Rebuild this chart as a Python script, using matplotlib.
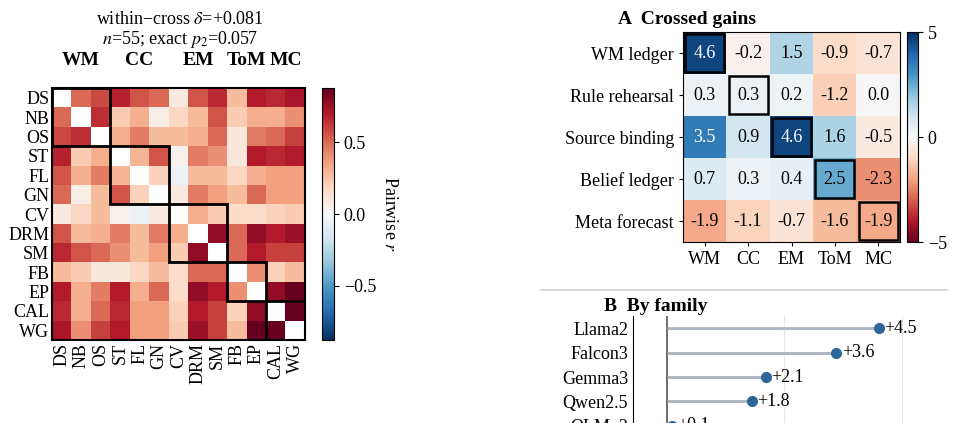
import numpy as np
import matplotlib
matplotlib.use("Agg")
import matplotlib.pyplot as plt
from matplotlib.patches import Rectangle
from matplotlib.lines import Line2D

plt.rcParams['font.family'] = ['Liberation Serif', 'DejaVu Serif']
plt.rcParams['mathtext.fontset'] = 'stix'
plt.rcParams['font.size'] = 13

tasks = ["DS", "NB", "OS", "ST", "FL", "GN", "CV", "DRM", "SM", "FB", "EP", "CAL", "WG"]
groups = ["WM", "CC", "EM", "ToM", "MC"]
group_sizes = [3, 3, 3, 2, 2]
lower = [
    [],
    [.50],
    [.58, .65],
    [.68, .22, .32],
    [.55, .32, .45, .30],
    [.50, .06, .28, .55, .20],
    [.08, .18, .28, .04, -.05, .08],
    [.55, .28, .32, .45, .28, .45, .32],
    [.66, .55, .50, .40, .28, .36, .22, .78],
    [.28, .22, .10, .10, .18, .28, .16, .50, .50],
    [.70, .32, .45, .70, .32, .50, .16, .78, .70, .40],
    [.66, .32, .50, .66, .36, .36, .20, .70, .60, .20, .78],
    [.72, .40, .60, .70, .36, .36, .22, .75, .60, .28, .92, .92],
]
gain_rows = ["WM ledger", "Rule rehearsal", "Source binding", "Belief ledger", "Meta forecast"]
gains = [
    [4.6, -0.2, 1.5, -0.9, -0.7],
    [0.3, 0.3, 0.2, -1.2, 0.0],
    [3.5, 0.9, 4.6, 1.6, -0.5],
    [0.7, 0.3, 0.4, 2.5, -2.3],
    [-1.9, -1.1, -0.7, -1.6, -1.9],
]
families = ["Llama2", "Falcon3", "Gemma3", "Qwen2.5", "OLMo2"]
family_gain = [4.5, 3.6, 2.1, 1.8, 0.1]

n = len(tasks)
M = np.full((n, n), np.nan)
for i, row in enumerate(lower):
    for j, v in enumerate(row):
        M[i, j] = v
        M[j, i] = v

fig = plt.figure(figsize=(9.54, 4.23), dpi=100)
W, H = 954, 423
def ax_px(x0, y0, x1, y1):
    return fig.add_axes([x0 / W, 1 - y1 / H, (x1 - x0) / W, (y1 - y0) / H])

# Left heatmap
ax = ax_px(52, 88, 305, 340)
cmap = plt.get_cmap('RdBu_r').copy()
cmap.set_bad('white')
im = ax.imshow(np.ma.masked_invalid(M), cmap=cmap, vmin=-0.88, vmax=0.88, aspect='auto')
ax.set_xticks(range(n)); ax.set_xticklabels(tasks, rotation=90)
ax.set_yticks(range(n)); ax.set_yticklabels(tasks)
ax.tick_params(length=0, pad=2)
for s in ax.spines.values():
    s.set_linewidth(1.5)
start = 0
for g, sz in zip(groups, group_sizes):
    ax.add_patch(Rectangle((start - 0.5, start - 0.5), sz, sz, fill=False, lw=2, ec='black'))
    ax.text(start - 0.5 + sz / 2, -1.9, g, ha='center', va='center', fontweight='bold', fontsize=14)
    start += sz
cax = ax_px(322, 88, 334, 340)
cb = fig.colorbar(im, cax=cax, ticks=[-0.5, 0, 0.5])
cb.ax.set_yticklabels(["\u22120.5", "0.0", "0.5"])
cb.set_label("Pairwise $r$", fontsize=13, rotation=270, labelpad=16)
fig.text(180 / W, 1 - 20 / H, "within\u2212cross $\\delta$=+0.081", ha='center', va='center', fontsize=13)
fig.text(180 / W, 1 - 40 / H, "$n$=55; exact $p_2$=0.057", ha='center', va='center', fontsize=13)

# Panel A
axA = ax_px(683, 32, 900, 242)
G = np.array(gains)
imA = axA.imshow(G, cmap='RdBu', vmin=-5, vmax=5, aspect='auto')
for i in range(5):
    for j in range(5):
        v = G[i, j]
        axA.text(j, i, f"{v:.1f}", ha='center', va='center', fontsize=13,
                 color='white' if abs(v) > 3 else 'black')
    axA.add_patch(Rectangle((i - 0.45, i - 0.45), 0.9, 0.9, fill=False, lw=1.8, ec='black'))
axA.set_xticks(range(5)); axA.set_xticklabels(groups)
axA.set_yticks(range(5)); axA.set_yticklabels(gain_rows)
axA.tick_params(length=3)
axA.set_title("A  Crossed gains", fontweight='bold', fontsize=14, loc='left', x=-0.3, pad=6)
caxA = ax_px(907, 32, 918, 242)
cbA = fig.colorbar(imA, cax=caxA, ticks=[-5, 0, 5])
cbA.ax.set_yticklabels(["\u22125", "0", "5"])

fig.add_artist(Line2D([540 / W, 948 / W], [1 - 290 / H, 1 - 290 / H], color='#d0d4d8', lw=1.2))

# Panel B
axB = ax_px(633, 316, 935, 438)
y = np.arange(len(families))
axB.hlines(y, 0, family_gain, color='#aab4be', lw=2, zorder=2)
axB.plot(family_gain, y, 'o', color='#2f6699', ms=7, zorder=3)
for yi, v in zip(y, family_gain):
    axB.text(v + 0.12, yi, f"+{v:.1f}", va='center', ha='left', fontsize=13)
axB.axvline(0, color='#555555', lw=1.2, zorder=1)
for gx in [2.5, 5]:
    axB.axvline(gx, color='#e6e6e6', lw=0.8, zorder=0)
axB.set_xlim(-0.72, 5.7)
axB.set_ylim(len(families) - 0.5, -0.5)
axB.set_yticks(y); axB.set_yticklabels(families)
axB.set_xticks([])
for s in ['top', 'right', 'bottom']:
    axB.spines[s].set_visible(False)
axB.tick_params(axis='y', length=0)
fig.text(633 / W - 0.03, 1 - 306 / H, "B  By family", fontweight='bold', fontsize=14, ha='left', va='center')

fig.savefig("out.png", dpi=100)
